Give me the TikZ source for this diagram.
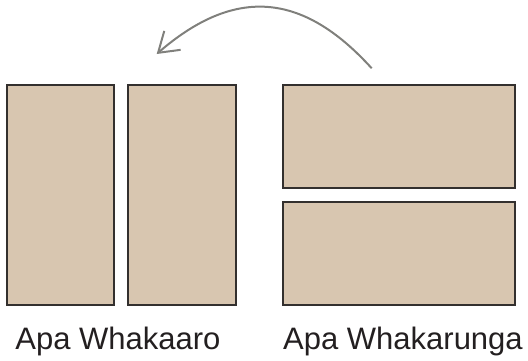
\documentclass[tikz,border=0pt]{standalone}
\usepackage{fontspec}
\setmainfont{Liberation Sans}
\usetikzlibrary{arrows.meta}
\definecolor{boxfill}{RGB}{216,198,176}
\definecolor{boxline}{RGB}{51,48,46}
\definecolor{arrowgray}{RGB}{128,128,124}
\definecolor{textcol}{RGB}{35,31,32}
\tikzset{
  panel/.style={draw=boxline, fill=boxfill, line width=1.8pt, inner sep=0pt, minimum width=#1},
  label/.style={font=\fontsize{31}{38}\selectfont, text=textcol, anchor=base, inner sep=0pt},
  curvearrow/.style={draw=arrowgray, line width=2pt, -{Straight Barb[length=19pt,width=25pt,line width=2pt]}}
}
\begin{document}
\begin{tikzpicture}[x=1pt,y=1pt]
\useasboundingbox (0,0) rectangle (528,360);
\node[panel=107pt, minimum height=220pt] (l1) at (60.5,165) {};
\node[panel=108pt, minimum height=220pt] (l2) at (182,165) {};
\node[panel=232pt, minimum height=103pt] (r1) at (399,223.5) {};
\node[panel=232pt, minimum height=103pt] (r2) at (399,106.5) {};
\node[label] (t1) at (118,11) {Apa Whakaaro};
\node[label] (t2) at (403,11) {Apa Whakarunga};
\coordinate (as) at (371.7,291.7);
\coordinate (ae) at (156.7,306);
\draw[curvearrow] (as) .. controls (302.7,367.9) and (235,373.7) .. (ae);
\end{tikzpicture}
\end{document}
